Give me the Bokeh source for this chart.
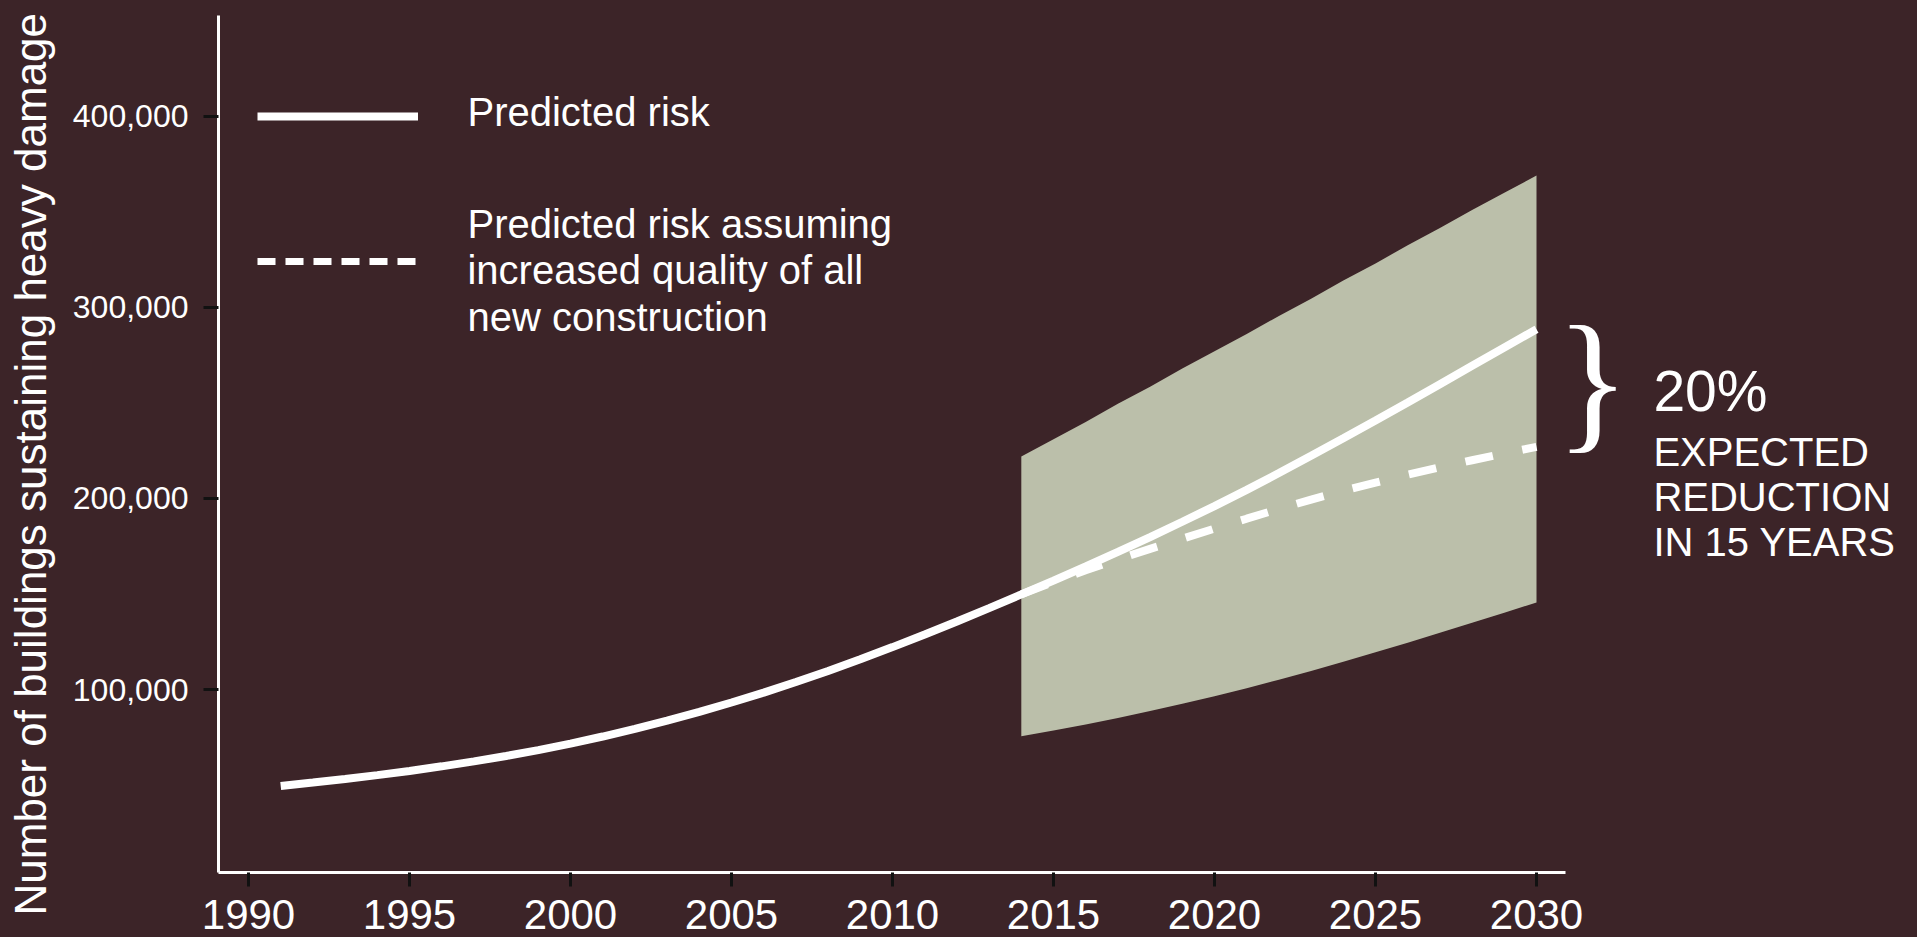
import math
from bokeh.plotting import figure
from bokeh.models import (Range1d, FixedTicker, NumeralTickFormatter, Label,
                          Legend, LegendItem, ColumnDataSource)
from bokeh.embed import file_html
from bokeh.resources import INLINE

# ---------------- data (values in thousands of buildings) ----------------
years_all = list(range(1991, 2031))
predicted_risk_k = [49.5, 51.3, 53.2, 55.2, 57.4, 59.8, 62.4, 65.2, 68.3, 71.7,
                    75.4, 79.4, 83.7, 88.3, 93.2, 98.4, 103.9, 109.7, 115.8, 122.2,
                    128.8, 135.6, 142.6, 149.8, 157.0, 164.4, 172.0, 179.8, 187.8, 196.0,
                    204.5, 213.3, 222.3, 231.5, 240.8, 250.2, 259.8, 269.4, 279.0, 288.6]

years_future = list(range(2014, 2031))
improved_risk_k = [149.8, 156.4, 162.4, 168.1, 173.6, 178.9, 184.2, 189.4, 194.5,
                   199.4, 204.0, 208.3, 212.4, 216.3, 220.0, 223.6, 227.0]
band_upper_k = [222.0, 231.0, 240.0, 249.5, 258.5, 268.0, 277.0, 286.0, 295.5,
                304.5, 314.0, 323.0, 332.5, 341.5, 351.0, 360.0, 369.0]
band_lower_k = [75.5, 78.5, 81.7, 85.1, 88.7, 92.5, 96.5, 100.7, 105.1,
                109.7, 114.5, 119.5, 124.5, 129.7, 134.9, 140.2, 145.6]

x_ticks = [1990, 1995, 2000, 2005, 2010, 2015, 2020, 2025, 2030]
y_ticks = [100000, 200000, 300000, 400000]

legend_first = "Predicted risk"
legend_second = ["Predicted risk assuming", "increased quality of all", "new construction"]
note_big = "20%"
note_lines = ["EXPECTED", "REDUCTION", "IN 15 YEARS"]
y_title = "Number of buildings sustaining heavy damage"

# ---------------- style ----------------
BG = "#3c2428"
BAND = "#bbbfaa"
WHITE = "#ffffff"
TICK = "#111111"
SANS = "Liberation Sans"
SERIF = "Liberation Serif"

risk = [v * 1000 for v in predicted_risk_k]
improved = [v * 1000 for v in improved_risk_k]
upper = [v * 1000 for v in band_upper_k]
lower = [v * 1000 for v in band_lower_k]

# the frame fills the whole canvas; axes are pinned with fixed_location
X0, X1 = 1982.298, 2041.832
Y0, Y1 = -29780, 460600
AX_X_START, AX_X_END = 1989.068, 2030.90
AX_Y_START, AX_Y_END = 4239, 452700

p = figure(width=1917, height=937,
           x_range=Range1d(X0, X1), y_range=Range1d(Y0, Y1),
           output_backend="svg", toolbar_location=None,
           min_border=0, min_border_left=0, min_border_right=0,
           min_border_top=0, min_border_bottom=0,
           background_fill_color=BG, border_fill_color=BG, outline_line_color=None)
p.grid.visible = False

# x axis
xa = p.xaxis[0]
xa.fixed_location = AX_Y_START
xa.bounds = (AX_X_START, AX_X_END)
xa.ticker = FixedTicker(ticks=x_ticks)
xa.axis_line_color = WHITE
xa.axis_line_width = 3
xa.major_tick_line_color = TICK
xa.major_tick_line_width = 3
xa.major_tick_out = 14
xa.major_tick_in = 0
xa.minor_tick_line_color = None
xa.major_label_text_font = SANS
xa.major_label_text_font_size = "42px"
xa.major_label_text_color = WHITE
xa.major_label_standoff = 14

# y axis
ya = p.yaxis[0]
ya.fixed_location = AX_X_START
ya.bounds = (AX_Y_START, AX_Y_END)
ya.ticker = FixedTicker(ticks=y_ticks)
ya.formatter = NumeralTickFormatter(format="0,0")
ya.axis_line_color = WHITE
ya.axis_line_width = 3
ya.major_tick_line_color = TICK
ya.major_tick_line_width = 3
ya.major_tick_out = 15
ya.major_tick_in = 0
ya.minor_tick_line_color = None
ya.major_label_text_font = SANS
ya.major_label_text_font_size = "32px"
ya.major_label_text_color = WHITE
ya.major_label_standoff = 15

# uncertainty band
p.varea(x=years_future, y1=lower, y2=upper, fill_color=BAND, fill_alpha=1.0)

# lines
solid = p.line(years_all, risk, line_color=WHITE, line_width=8)
src_dash = ColumnDataSource(data=dict(x=years_future, y=improved))
p.line("x", "y", source=src_dash, line_color=WHITE, line_width=8, line_dash="28 30")

# legend sample for the dashed series: same data, hidden renderer carrying the legend style
leg_dash = p.line("x", "y", source=src_dash, line_color=WHITE, line_width=7,
                  line_dash="18 10", visible=False)
legend = Legend(items=[LegendItem(label=" ", renderers=[solid]),
                       LegendItem(label=" ", renderers=[leg_dash])],
                location=(257, 661.5), glyph_width=161, glyph_height=30, spacing=115,
                padding=0, margin=0, label_text_font_size="10px", label_standoff=0,
                label_width=0, border_line_color=None, background_fill_alpha=0,
                inactive_fill_alpha=0)
p.add_layout(legend)

def add_text(text, x, y, size, font=SANS, angle=0.0, style="normal"):
    p.add_layout(Label(x=x, y=y, text=text, text_font=font, text_font_size=size,
                       text_font_style=style, text_color=WHITE, text_align="left",
                       text_baseline="middle", angle=angle))

# legend texts
add_text(legend_first, 1996.80, 402430, "40px")
for txt, yv in zip(legend_second, [343810, 319740, 295140]):
    add_text(txt, 1996.80, yv, "40px")

# y-axis title (rotated)
add_text(y_title, 1983.222, -18265, "44px", angle=math.pi / 2)

# right-hand annotation
add_text("}", 2030.60, 261880, "154px", font=SERIF)
add_text(note_big, 2033.63, 256360, "57px")
for txt, yv in zip(note_lines, [224490, 200940, 177390]):
    add_text(txt, 2033.63, yv, "40px")

html = file_html(p, INLINE, title="Predicted risk")
html = html.replace("<head>", "<head><style>html,body{margin:0;padding:0;overflow:hidden;background:%s;}</style>" % BG, 1)
open("out.html", "w").write(html)
